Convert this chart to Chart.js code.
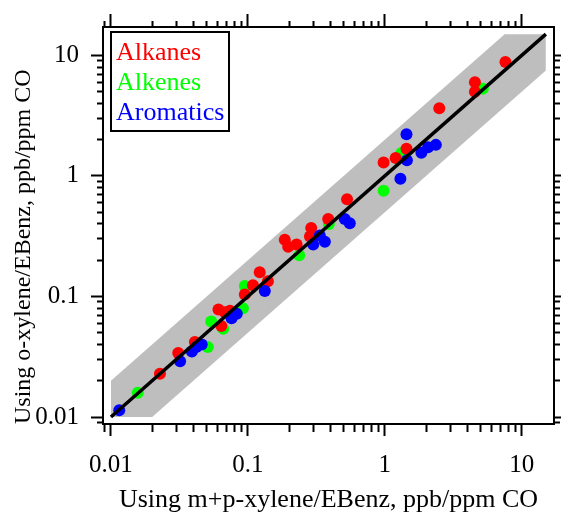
<!DOCTYPE html>
<html>
<head>
<meta charset="UTF-8">
<title>o-xylene vs m+p-xylene ratios</title>
<script src="https://cdn.jsdelivr.net/npm/chart.js@4"></script>
<style>
  body { margin: 0; background: #fff; }
  canvas { display: block; }
</style>
</head>
<body>
<canvas id="scatter" width="561" height="516"></canvas>
<script>
// values (x = m+p-xylene based, y = o-xylene based)
const alkanesX = [0.0228, 0.031, 0.041, 0.061, 0.068, 0.074, 0.064, 0.095, 0.109, 0.122, 0.14,
  0.186, 0.197, 0.227, 0.284, 0.29, 0.386, 0.53, 0.98, 1.2, 1.44, 2.5, 4.55, 4.55, 7.6];
const alkanesY = [0.0229, 0.034, 0.042, 0.078, 0.074, 0.076, 0.057, 0.104, 0.124, 0.159, 0.134,
  0.296, 0.258, 0.27, 0.315, 0.37, 0.44, 0.64, 1.29, 1.41, 1.68, 3.65, 6.0, 5.0, 8.8];

const alkenesX = [0.0157, 0.051, 0.054, 0.066, 0.092, 0.095, 0.237, 0.39, 0.98, 1.32, 5.2];
const alkenesY = [0.0159, 0.038, 0.062, 0.054, 0.08, 0.122, 0.22, 0.40, 0.755, 1.55, 5.3];

const aromaticsX = [0.0115, 0.032, 0.039, 0.042, 0.046, 0.076, 0.083, 0.133, 0.30, 0.335, 0.365,
  0.51, 0.555, 1.30, 1.45, 1.44, 1.85, 2.07, 2.36];
const aromaticsY = [0.0114, 0.029, 0.035, 0.038, 0.040, 0.066, 0.072, 0.111, 0.27, 0.32, 0.284,
  0.44, 0.405, 0.946, 1.35, 2.22, 1.56, 1.73, 1.81];

// 1:1 line and the factor-of-2 band around it
const oneToOneX = [0.01, 15];
const oneToOneY = [0.01, 15];
const bandUpperX = [0.01, 7.5, 15];
const bandUpperY = [0.02, 15, 15];
const bandLowerX = [0.01, 0.02, 15];
const bandLowerY = [0.01, 0.01, 7.5];

const tickValues = [0.01, 0.1, 1, 10];
const tickLabels = ['0.01', '0.1', '1', '10'];
const legendNames = ['Alkanes', 'Alkenes', 'Aromatics'];
const axisMin = 0.00875, axisMax = 17.2;

function pairs(xs, ys) {
  return xs.map((x, i) => ({ x: x, y: ys[i] }));
}

function isMajor(v) {
  const l = Math.log10(v);
  return Math.abs(l - Math.round(l)) < 1e-6;
}

function logTicks(scale) {
  const t = [];
  for (let e = -3; e <= 2; e++) {
    for (let m = 1; m <= 9; m++) {
      const v = m * Math.pow(10, e);
      if (v >= axisMin && v <= axisMax) t.push({ value: v });
    }
  }
  scale.ticks = t;
}

function tickLabel(value) {
  const i = tickValues.findIndex(t => Math.abs(t - value) / t < 1e-6);
  return i >= 0 ? tickLabels[i] : '';
}

// outward tick marks, minor ones shortened with a dash pattern
function tickGrid(major, minor, outerFirst) {
  return {
    drawOnChartArea: false,
    drawTicks: true,
    tickLength: major,
    tickWidth: 2,
    tickColor: '#000',
    tickBorderDash: ctx => {
      if (!ctx.tick || isMajor(ctx.tick.value)) return [];
      return outerFirst ? [0, major - minor, minor, 100] : [minor, 100];
    }
  };
}

const border = { display: true, color: '#000', width: 2 };

const legendBox = {
  id: 'legendBox',
  afterDraw(chart) {
    const ctx = chart.ctx;
    const colors = ['#ff0000', '#00ff00', '#0000ff'];
    const left = chart.chartArea.left + 8;
    const top = chart.chartArea.top + 5;
    ctx.save();
    ctx.fillStyle = '#fff';
    ctx.fillRect(left, top, 118, 99);
    ctx.lineWidth = 2;
    ctx.strokeStyle = '#000';
    ctx.strokeRect(left, top, 118, 99);
    ctx.font = '26px "Liberation Serif"';
    ctx.textBaseline = 'alphabetic';
    legendNames.forEach((name, i) => {
      ctx.fillStyle = colors[i];
      ctx.fillText(name, left + 5, top + 28 + i * 30);
    });
    ctx.restore();
  }
};

Chart.defaults.font.family = "'Liberation Serif', 'Times New Roman', serif";
Chart.defaults.color = '#000';

new Chart(document.getElementById('scatter'), {
  type: 'scatter',
  data: {
    datasets: [
      { label: '1:1', data: pairs(oneToOneX, oneToOneY), showLine: true, borderColor: '#000',
        borderWidth: 3.5, pointRadius: 0, fill: false, order: 0 },
      { label: legendNames[2], data: pairs(aromaticsX, aromaticsY), backgroundColor: '#0000ff',
        pointRadius: 6, pointBorderWidth: 0, order: 1 },
      { label: legendNames[0], data: pairs(alkanesX, alkanesY), backgroundColor: '#ff0000',
        pointRadius: 6, pointBorderWidth: 0, order: 2 },
      { label: legendNames[1], data: pairs(alkenesX, alkenesY), backgroundColor: '#00ff00',
        pointRadius: 6, pointBorderWidth: 0, order: 3 },
      { label: 'band upper', data: pairs(bandUpperX, bandUpperY), showLine: true, borderWidth: 0,
        borderColor: 'rgba(0,0,0,0)', backgroundColor: '#bebebe', pointRadius: 0, fill: '+1', order: 4 },
      { label: 'band lower', data: pairs(bandLowerX, bandLowerY), showLine: true, borderWidth: 0,
        borderColor: 'rgba(0,0,0,0)', pointRadius: 0, fill: false, order: 5 }
    ]
  },
  options: {
    responsive: false,
    animation: false,
    events: [],
    layout: { padding: 0 },
    plugins: { legend: { display: false }, tooltip: { enabled: false } },
    scales: {
      x: {
        type: 'logarithmic', position: 'bottom', min: axisMin, max: axisMax,
        afterBuildTicks: logTicks,
        afterFit: s => { s.height = 92; },
        ticks: { autoSkip: false, maxRotation: 0, padding: 14, font: { size: 25 }, callback: tickLabel },
        grid: tickGrid(12, 7, false),
        border: border,
        title: { display: true, text: 'Using m+p-xylene/EBenz, ppb/ppm CO', font: { size: 26 },
          padding: { top: 0, bottom: 0 } }
      },
      x2: {
        type: 'logarithmic', position: 'top', min: axisMin, max: axisMax,
        afterBuildTicks: logTicks,
        afterFit: s => { s.height = 19; },
        ticks: { display: false, autoSkip: false },
        grid: tickGrid(13, 6, true),
        border: border
      },
      y: {
        type: 'logarithmic', position: 'left', min: axisMin, max: axisMax,
        afterBuildTicks: logTicks,
        afterFit: s => { s.width = 103; },
        ticks: { autoSkip: false, padding: 12, font: { size: 25 }, callback: tickLabel },
        grid: tickGrid(12, 6, true),
        border: border,
        title: { display: true, text: 'Using o-xylene/EBenz, ppb/ppm CO', align: 'start', font: { size: 24 },
          padding: { top: 9, bottom: 0 } }
      },
      y2: {
        type: 'logarithmic', position: 'right', min: axisMin, max: axisMax,
        afterBuildTicks: logTicks,
        afterFit: s => { s.width = 7; },
        ticks: { display: false, autoSkip: false },
        grid: tickGrid(7, 5, false),
        border: border
      }
    }
  },
  plugins: [legendBox]
});
</script>
</body>
</html>
